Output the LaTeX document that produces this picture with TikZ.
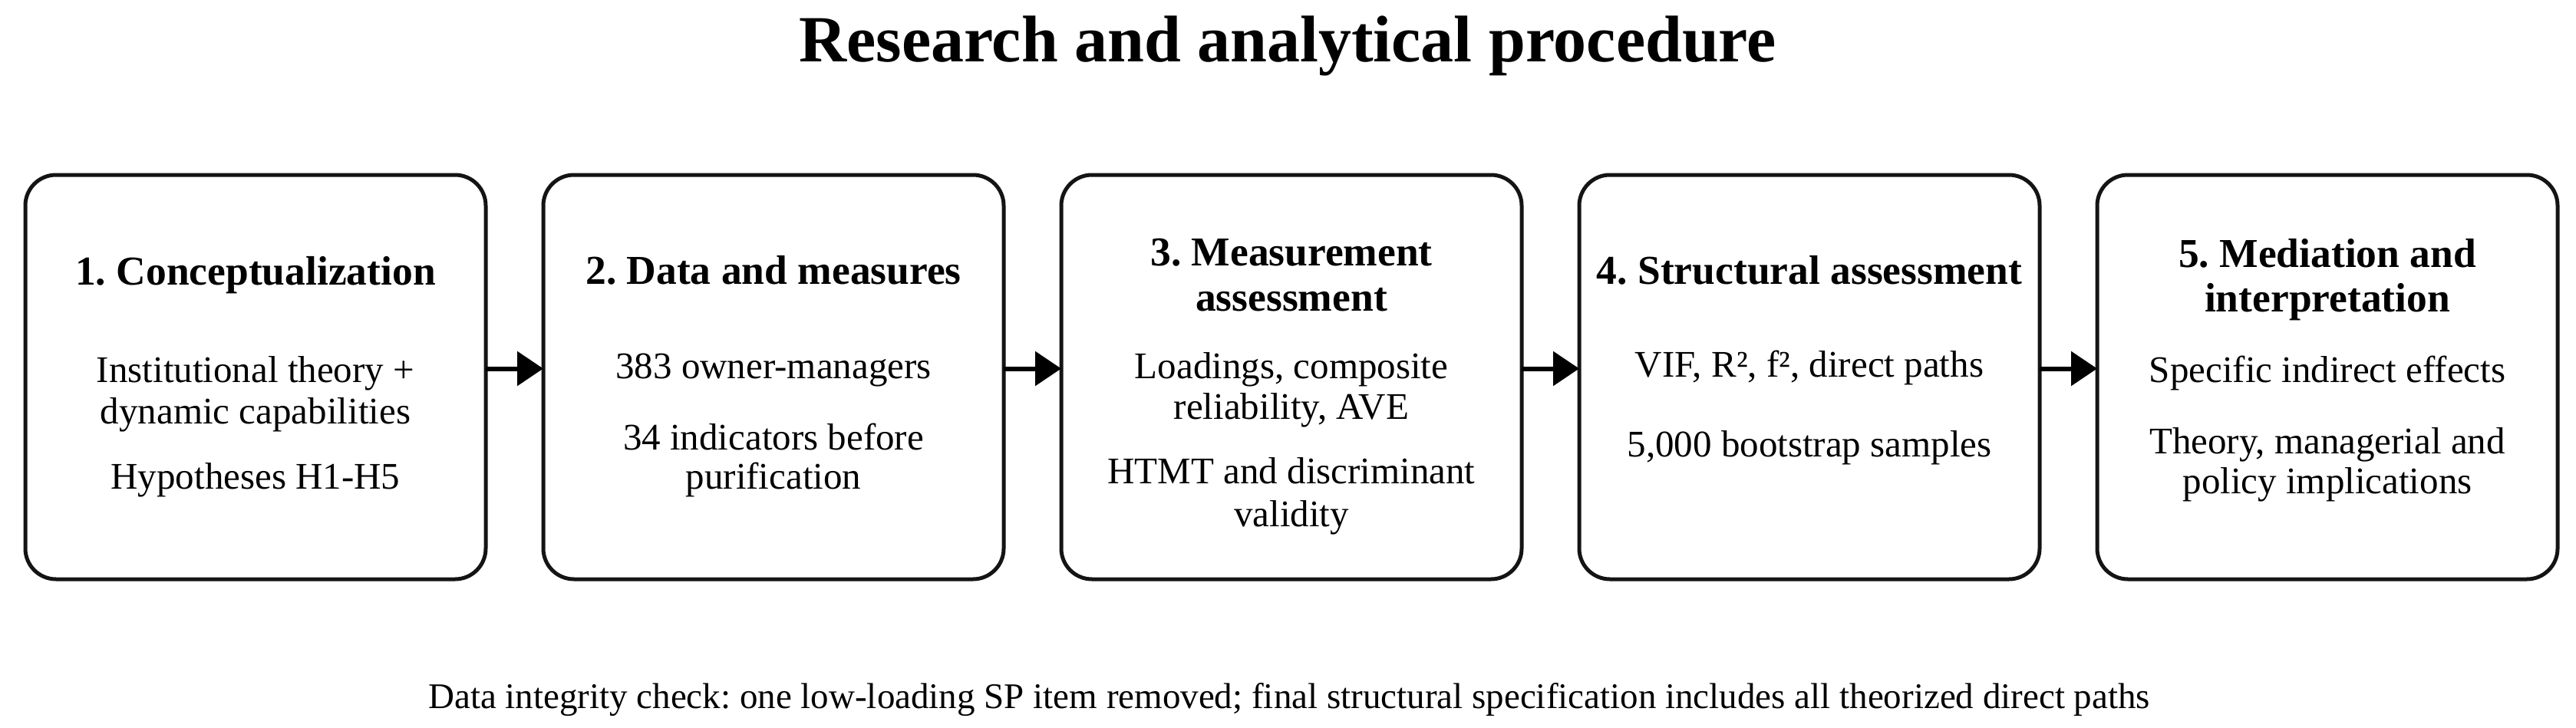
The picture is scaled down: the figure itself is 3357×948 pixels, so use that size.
\documentclass[tikz,border=0pt]{standalone}
\usepackage{fontspec}
\setmainfont{Liberation Serif}
\usetikzlibrary{arrows.meta}
\frenchspacing
\begin{document}
\begin{tikzpicture}[x=1pt,y=-1pt,
  boxsty/.style={draw=black!92, line width=5pt, rounded corners=40pt, minimum width=600pt, minimum height=527pt, inner sep=0pt, outer sep=0pt, fill=white},
  headsty/.style={anchor=base, inner sep=0pt, font=\fontsize{53.5}{59}\selectfont\bfseries\frenchspacing},
  bodysty/.style={anchor=base, inner sep=0pt, font=\fontsize{49}{55}\selectfont\frenchspacing},
  arr/.style={line width=6pt, -{Triangle[length=34pt,width=44pt]}}]
\useasboundingbox[fill=white] (0,0) rectangle (3357,948);
\node[anchor=base, inner sep=0pt, font=\fontsize{86}{95}\selectfont\bfseries] (title) at (1678,80) {Research and analytical procedure};
% boxes
\node[boxsty] (b1) at (333,491.5) {};
\node[boxsty] (b2) at (1008,491.5) {};
\node[boxsty] (b3) at (1683,491.5) {};
\node[boxsty] (b4) at (2358,491.5) {};
\node[boxsty] (b5) at (3033,491.5) {};
% arrows
\draw[arr] ([yshift=11pt]b1.east) -- ([yshift=11pt]b2.west);
\draw[arr] ([yshift=11pt]b2.east) -- ([yshift=11pt]b3.west);
\draw[arr] ([yshift=11pt]b3.east) -- ([yshift=11pt]b4.west);
\draw[arr] ([yshift=11pt]b4.east) -- ([yshift=11pt]b5.west);
% box 1
\node[headsty] (h1) at (333,371) {1. Conceptualization};
\node[bodysty] (t1a) at (333,498) {Institutional theory +};
\node[bodysty] (t1b) at (333,552) {dynamic capabilities};
\node[bodysty] (t1c) at (333,637) {Hypotheses H1-H5};
% box 2
\node[headsty] (h2) at (1008,370) {2. Data and measures};
\node[bodysty] (t2a) at (1008,493) {383 owner-managers};
\node[bodysty] (t2b) at (1008,586) {34 indicators before};
\node[bodysty] (t2c) at (1008,637) {purification};
% box 3
\node[headsty] (h3a) at (1683,346) {3. Measurement};
\node[headsty] (h3b) at (1683,405) {assessment};
\node[bodysty] (t3a) at (1683,493) {Loadings, composite};
\node[bodysty] (t3b) at (1683,546) {reliability, AVE};
\node[bodysty] (t3c) at (1683,630) {HTMT and discriminant};
\node[bodysty] (t3d) at (1683,686) {validity};
% box 4
\node[headsty] (h4) at (2358,370) {4. Structural assessment};
\node[bodysty] (t4a) at (2358,491) {VIF, R², f², direct paths};
\node[bodysty] (t4b) at (2358,595) {5,000 bootstrap samples};
% box 5
\node[headsty] (h5a) at (3033,348) {5. Mediation and};
\node[headsty] (h5b) at (3033,406) {interpretation};
\node[bodysty] (t5a) at (3033,498) {Specific indirect effects};
\node[bodysty] (t5b) at (3033,591) {Theory, managerial and};
\node[bodysty] (t5c) at (3033,643) {policy implications};
% note
\node[anchor=base, inner sep=0pt, font=\fontsize{47}{52}\selectfont\frenchspacing] (note) at (1680,923) {Data integrity check: one low-loading SP item removed; final structural specification includes all theorized direct paths};
\end{tikzpicture}
\end{document}
